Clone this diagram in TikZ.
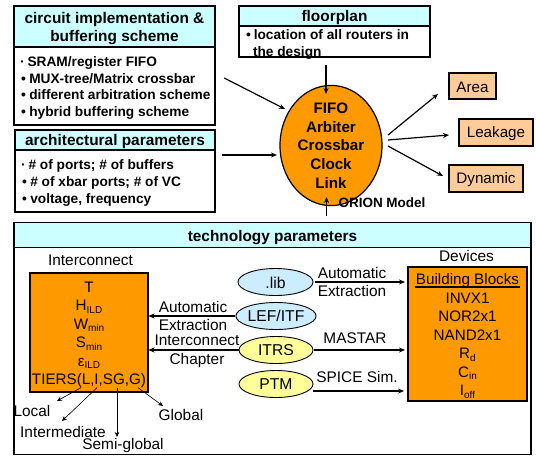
\documentclass[tikz,border=0pt]{standalone}
\usepackage{fontspec}
\setmainfont{Liberation Sans}
\usetikzlibrary{arrows.meta,shapes.geometric}
\definecolor{titlecyan}{HTML}{CCFFFF}
\definecolor{hubor}{HTML}{FF9900}
\definecolor{peach}{HTML}{FFCC99}
\definecolor{lblue}{HTML}{CCECFF}
\definecolor{lyellow}{HTML}{FFFF99}
\newcommand\sbs[1]{\raisebox{-2.5pt}{\fontsize{10}{10}\selectfont #1}}
\newcommand\bul{\hspace*{3pt}•\hspace{3.5pt}}
\newcommand\dotb{\hspace*{2pt}·\hspace{3pt}}
% lowers a text inside its node without changing the node's size
\newcommand\lowered[2]{\raisebox{-#1pt}[\height][\depth]{#2}}
\newcommand\cblock[3]{\lowered{#1}{\parbox{#2pt}{\centering #3}}}
\tikzset{
  titlebox/.style={draw=black,line width=1.4pt,fill=titlecyan,inner sep=0pt,align=center,font=\bfseries\fontsize{15.4}{18.8}\selectfont},
  bodybox/.style={draw=black,line width=1.4pt,fill=white,inner sep=0pt,align=left,font=\bfseries\fontsize{13.7}{16.7}\selectfont},
  hubnode/.style={ellipse,draw=black,line width=1.2pt,fill=hubor,inner sep=0pt,minimum width=102pt,minimum height=93pt,align=center,font=\bfseries\fontsize{15.2}{18.6}\selectfont},
  resultbox/.style={draw=black,line width=1.4pt,fill=peach,inner sep=0pt,font=\fontsize{15.2}{18}\selectfont},
  orbox/.style={draw=black,line width=1.3pt,fill=hubor,inner sep=0pt,align=center,font=\fontsize{15.2}{18.5}\selectfont},
  srcnode/.style={ellipse,draw=black,line width=.9pt,inner sep=0pt,minimum width=75pt,minimum height=27pt,font=\fontsize{15.7}{18}\selectfont},
  lbl/.style={inner sep=0pt,align=center,font=\fontsize{15.4}{18}\selectfont},
  arr/.style={-{Stealth[length=6pt,width=5pt]},line width=1.2pt},
  thinarr/.style={-{Stealth[length=5pt,width=4.5pt]},line width=.6pt},
}
\begin{document}
\begin{tikzpicture}[x=1pt,y=-1pt]
\useasboundingbox (0,0) rectangle (536,456);
% top-left
\node[titlebox,minimum width=201pt,minimum height=41pt] (t1) at (114.5,26.5) {\cblock{2}{199}{circuit implementation \&\\buffering scheme}};
\node[bodybox,minimum width=201pt,minimum height=78pt] (b1) at (114.5,86) {\lowered{2}{\parbox{193pt}{\dotb SRAM/register FIFO\\\bul MUX-tree/Matrix crossbar\\\bul different arbitration scheme\\\bul hybrid buffering scheme}}};
\node[titlebox,minimum width=200pt,minimum height=20pt] (t2) at (115,140) {\lowered{2}{architectural parameters}};
\node[bodybox,minimum width=200pt,minimum height=62pt] (b2) at (115,181) {\lowered{2}{\parbox{192pt}{\dotb \# of ports; \# of buffers\\\bul \# of xbar ports; \# of VC\\\bul voltage, frequency}}};
% floorplan
\node[titlebox,minimum width=191pt,minimum height=20pt] (t3) at (334.5,16) {\lowered{2}{floorplan}};
\node[bodybox,minimum width=191pt,minimum height=31pt] (b3) at (334.5,41.5) {\lowered{3}{\parbox{183pt}{\hspace*{3pt}•\hspace{3pt}location of all routers in\\\hspace*{10pt}the design}}};
% hub
\node[hubnode] (hub) at (331,145.5) {FIFO\\Arbiter\\Crossbar\\Clock\\Link};
% results
\node[resultbox,minimum width=47pt,minimum height=26pt] (area) at (472.5,86) {\lowered{1.5}{Area}};
\node[resultbox,minimum width=74pt,minimum height=27pt] (leak) at (496,132.5) {\lowered{1.5}{Leakage}};
\node[resultbox,minimum width=74pt,minimum height=27pt] (dyn) at (486,178.5) {\lowered{1.5}{Dynamic}};
% tech
\node[draw=black,line width=1.4pt,minimum width=517pt,minimum height=232pt,inner sep=0pt] (tech) at (272.5,338.5) {};
\node[titlebox,minimum width=517pt,minimum height=25pt] (t4) at (272.5,235) {\lowered{2.5}{technology parameters}};
\node[lbl] (orion) at (382,203) {\bfseries\fontsize{13.5}{16}\selectfont ORION Model};
% interconnect
\node[lbl] (ilabel) at (90.5,260) {Interconnect};
\node[orbox,minimum width=118pt,minimum height=119pt] (ibox) at (89,332.5) {\cblock{2.5}{116}{T\\H\sbs{ILD}\\W\sbs{min}\\S\sbs{min}\\ε\sbs{ILD}\\TIERS(L,I,SG,G)}};
% devices
\node[lbl] (dlabel) at (466.5,256) {Devices};
\node[orbox,minimum width=119pt,minimum height=134pt] (dev) at (467.5,334) {\cblock{2}{117}{Building Blocks\\INVX1\\NOR2x1\\NAND2x1\\R\sbs{d}\\C\sbs{in}\\I\sbs{off}}};
\draw[line width=1.3pt] ([shift={(-52.5,-47)}]dev.center) -- ([shift={(52.5,-47)}]dev.center);
% sources
\node[srcnode,fill=lblue] (lib) at (275.5,282) {\lowered{1}{.lib}};
\node[srcnode,fill=lblue,minimum width=74pt] (lef) at (276,316) {LEF/ITF};
\node[srcnode,fill=lyellow,minimum width=74pt] (itrs) at (276,350) {ITRS};
\node[srcnode,fill=lyellow,minimum width=74pt] (ptm) at (276,384) {PTM};
% labels
\node[lbl] (l1) at (352,282) {Automatic\\Extraction};
\node[lbl] (l2) at (355,338) {MASTAR};
\node[lbl] (l3) at (357,377) {SPICE Sim.};
\node[lbl] (l4) at (193,316) {Automatic\\Extraction};
\node[lbl,font=\fontsize{15.4}{19}\selectfont] (l5) at (197,351) {Interconnect\\Chapter};
\node[lbl] (local) at (32,411) {Local};
\node[lbl] (inter) at (63,432) {Intermediate};
\node[lbl] (semi) at (123,446) {Semi-global};
\node[lbl] (glob) at (181,415) {Global};
% arrows into the hub
\draw[arr] ([shift={(8.5,-8)}]b1.east) -- ([shift={(-46,-36.5)}]hub.center);
\draw[arr] ([shift={(6,-26)}]b2.east) -- ([shift={(-54,9.5)}]hub.center);
\draw[arr] ([shift={(-8.5,7)}]b3.south) -- ([shift={(-5,-51.5)}]hub.center);
\draw[arr] ([shift={(54,-5.5)}]t4.north) -- ([shift={(-4.5,51.5)}]hub.center);
% arrows out of the hub
\draw[arr] ([shift={(57,-10.5)}]hub.center) -- ([shift={(-34.5,8)}]area.center);
\draw[arr] ([shift={(57,-5.5)}]hub.center) -- ([shift={(-47,2.5)}]leak.center);
\draw[arr] ([shift={(57,0.5)}]hub.center) -- ([shift={(-43,-2.5)}]dyn.center);
% arrows in the technology box
\draw[arr] ([shift={(39.5,0)}]lib.center) -- ([shift={(-62.5,-52)}]dev.center);
\draw[arr] ([shift={(38,0)}]itrs.center) -- ([shift={(-62.5,16)}]dev.center);
\draw[arr] ([shift={(37,7)}]ptm.center) -- ([shift={(-63.5,57)}]dev.center);
\draw[arr] ([shift={(-41,0)}]lef.center) -- ([shift={(59.5,-16.5)}]ibox.center);
\draw[arr] ([shift={(-37,0)}]itrs.center) -- ([shift={(59.5,17.5)}]ibox.center);
% tier arrows
\draw[thinarr] ([shift={(-8,-5)}]ibox.south) -- ([shift={(25,-10)}]local.center);
\draw[thinarr] ([shift={(8,-5)}]ibox.south) -- ([shift={(-1,-11)}]inter.center);
\draw[thinarr] ([shift={(28,-5)}]ibox.south) -- ([shift={(-6,-9)}]semi.center);
\draw[thinarr] ([shift={(49,-5)}]ibox.south) -- ([shift={(-18,-9)}]glob.center);
\end{tikzpicture}
\end{document}
